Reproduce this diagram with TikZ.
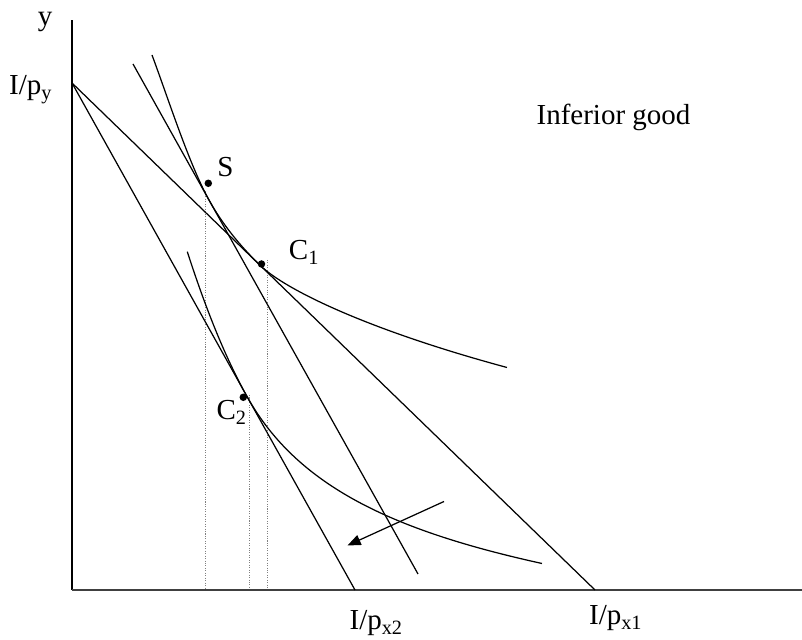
\documentclass[tikz,border=0pt]{standalone}
\usepackage{fontspec}
\setmainfont{Liberation Serif}
\usetikzlibrary{arrows.meta}

\begin{document}
\begin{tikzpicture}[line width=0.7pt, font=\fontsize{16.5}{20}\selectfont,
  dot/.style={circle,fill,inner sep=0pt,minimum size=0.15cm},
  guide/.style={gray,line width=0.5pt,dash pattern=on 0.6pt off 0.8pt}]
  \useasboundingbox (-1.44,-1.0) rectangle (14.6,11.8);
  \coordinate (O) at (0,0);
  \coordinate (Ytop) at (0,11.4);
  \coordinate (Xend) at (14.6,0);
  \coordinate (Ipy) at (0,10.14);
  \coordinate (Ipx1) at (10.46,0);
  \coordinate (Ipx2) at (5.66,0);
  \coordinate (comptop) at (1.22,10.52);
  \coordinate (compbot) at (6.92,0.32);
  \coordinate (s) at (2.66,7.97);
  \coordinate (c1) at (3.906,6.6);
  \coordinate (c2) at (3.546,3.9);
  \coordinate (shiftA) at (7.44,1.77);
  \coordinate (shiftB) at (5.51,0.89);

  \foreach \c in {s,c1,c2}
    \draw[guide] (\c) -- (\c |- O);

  \draw (O) -- (Ytop);
  \draw[black!75,line width=1.1pt] (O) -- (Xend);
  \draw (Ipy) -- (Ipx1);
  \draw (Ipy) -- (Ipx2);
  \draw (comptop) -- (compbot);

  \draw (1.6,10.7) .. controls (1.95,9.755) and (2.35,8.496) .. (2.75,7.78)
    .. controls (3.001,7.333) and (3.338,6.904) .. (3.76,6.495)
    .. controls (4.26,6.01) and (5.9,5.206) .. (8.7,4.45);
  \draw (2.306,6.766) .. controls (2.656,5.681) and (3.05,4.676) .. (3.5,3.87)
    .. controls (4.5,2.079) and (6.4,1.19) .. (9.4,0.53);

  \draw[-{Triangle[length=7.5pt,width=6pt]}] (shiftA) -- (shiftB);

  \node[dot] (S) at (2.726,8.134) {};
  \node[dot] (C1) at (3.79,6.52) {};
  \node[dot] (C2) at (3.426,3.854) {};

  \node[anchor=base] (ylab) at (-0.54,11.28) {y};
  \node[anchor=base east,inner sep=0pt] (Ipylab) at (-0.38,9.9) {I/p\textsubscript{y}};
  \node[anchor=base west,inner sep=0pt] (Slab) at (2.894,8.266) {S};
  \node[anchor=base west,inner sep=0pt] (C1lab) at (4.326,6.6) {C\textsubscript{1}};
  \node[anchor=base west,inner sep=0pt] (C2lab) at (2.88,3.4) {C\textsubscript{2}};
  \node[anchor=base west,inner sep=0pt] (Ipx2lab) at (5.54,-0.8) {I/p\textsubscript{x2}};
  \node[anchor=base west,inner sep=0pt] (Ipx1lab) at (10.33,-0.7) {I/p\textsubscript{x1}};
  \node[anchor=base west,inner sep=0pt] (title) at (9.28,9.3) {Inferior good};
\end{tikzpicture}
\end{document}
